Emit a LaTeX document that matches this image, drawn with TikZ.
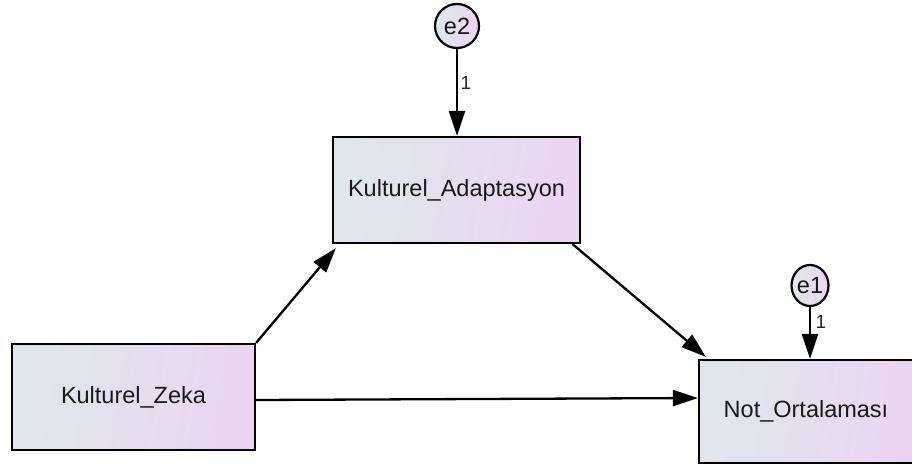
\documentclass[tikz,border=0pt]{standalone}
\usepackage{fontspec}
\setmainfont{Liberation Sans}
\usetikzlibrary{arrows.meta,calc,shapes.geometric}
\definecolor{gl}{RGB}{222,232,236}
\definecolor{gr}{RGB}{236,212,243}
\tikzset{
  obs/.style={draw=black, line width=2.2pt, rectangle, left color=gl, right color=gr, shading angle=80,
    inner sep=0pt, font=\fontsize{23.5}{27}\selectfont, text=black!90},
  err/.style={draw=black, line width=2.2pt, ellipse, left color=gl, right color=gr,
    inner sep=0pt, font=\fontsize{23.5}{27}\selectfont, text=black!90},
  conn/.style={line width=2.3pt, -{Triangle[length=25pt,width=16pt]}},
  wlab/.style={font=\fontsize{19}{21}\selectfont, text=black!85, inner sep=0pt}
}
\begin{document}
\begin{tikzpicture}[x=1pt,y=-1pt]
\useasboundingbox (0,0) rectangle (912,468);
\begin{scope}
\clip (0,0) rectangle (912,468);
\node[obs, minimum width=243pt, minimum height=106pt] (zeka) at (133.5,397) {Kulturel\_Zeka};
\node[obs, minimum width=247pt, minimum height=106pt] (adapt) at (456.5,190) {Kulturel\_Adaptasyon};
\node[obs, minimum width=214pt, minimum height=103pt] (not) at (806,411.5) {Not\_Ortalaması};
\node[err, minimum width=44pt, minimum height=44pt] (e2) at (457,26) {e2};
\node[err, minimum width=36pt, minimum height=41pt] (e1) at (810,285.5) {e1};
\draw[conn] (e2.south) -- (e2.south |- adapt.north);
\draw[conn] (e1.south) -- (e1.south |- not.north);
\draw[conn] (zeka.north east) -- ($(adapt.south west)+(4,4)$);
\draw[conn] (adapt.-25.4) -- ($(not.north west)+(8,-2)$);
\draw[conn] ($(zeka.east)+(0,3)$) -- ($(zeka.east -| not.west)+(0,1)$);
\node[wlab] (w2) at (466,83) {1};
\node[wlab] (w1) at (821,322) {1};
\end{scope}
\end{tikzpicture}
\end{document}
